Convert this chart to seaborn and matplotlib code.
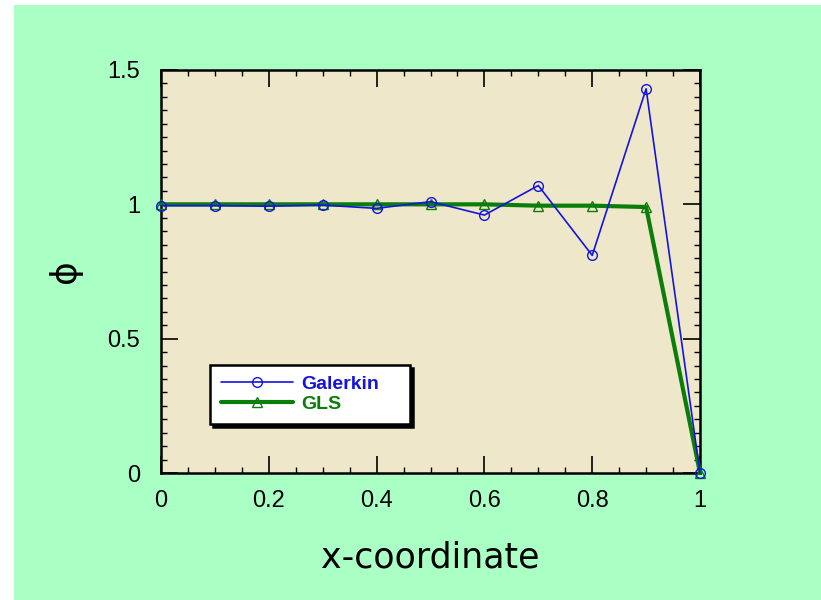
import matplotlib
matplotlib.use("Agg")
import matplotlib.pyplot as plt
import seaborn as sns
import pandas as pd
from matplotlib.patches import Rectangle
from matplotlib.ticker import MultipleLocator, FuncFormatter

# Nodal solution values along the 1-D domain
x_nodes = [0.0, 0.1, 0.2, 0.3, 0.4, 0.5, 0.6, 0.7, 0.8, 0.9, 1.0]
phi_galerkin = [0.995, 0.995, 0.993, 0.997, 0.985, 1.01, 0.96, 1.07, 0.81, 1.43, 0.0]
phi_gls = [1.0, 1.0, 1.0, 1.0, 1.0, 1.0, 1.0, 0.995, 0.995, 0.99, 0.0]

x_ticks = [0, 0.2, 0.4, 0.6, 0.8, 1]
y_ticks = [0, 0.5, 1, 1.5]

blue = "#1414e0"
green = "#0a7d0a"
panel = "#efe7c9"
outer = "#aaffc5"

sns.set_style("ticks")
plt.rcParams["font.family"] = ["Liberation Sans", "DejaVu Sans"]
plt.rcParams["text.color"] = "black"
plt.rcParams["axes.labelcolor"] = "black"
plt.rcParams["xtick.color"] = "black"
plt.rcParams["ytick.color"] = "black"

fig = plt.figure(figsize=(8.21, 6.0), dpi=100, facecolor="white")
fig.patches.append(Rectangle((14 / 821, 0), 1, 1 - 5 / 600, transform=fig.transFigure,
                             facecolor=outer, edgecolor="none", zorder=-10))
ax = fig.add_axes([161 / 821, 1 - 473 / 600, 539 / 821, 403 / 600])
ax.set_facecolor(panel)

df = pd.DataFrame({"x": x_nodes, "galerkin": phi_galerkin, "gls": phi_gls})

sns.lineplot(data=df, x="x", y="galerkin", ax=ax, color=blue, linewidth=1.2,
             marker="o", markersize=7, markerfacecolor="none", markeredgecolor=blue,
             markeredgewidth=1.0, label="Galerkin", clip_on=False, zorder=4)
sns.lineplot(data=df, x="x", y="gls", ax=ax, color=green, linewidth=3.0,
             marker="^", markersize=7, markerfacecolor="none", markeredgecolor=green,
             markeredgewidth=1.0, label="GLS", clip_on=False, zorder=3)

ax.set_xlim(0, 1)
ax.set_ylim(0, 1.5)
ax.set_xticks(x_ticks)
ax.set_yticks(y_ticks)
ax.xaxis.set_minor_locator(MultipleLocator(0.05))
ax.yaxis.set_minor_locator(MultipleLocator(0.05))
fmt = FuncFormatter(lambda v, p: f"{v:g}")
ax.xaxis.set_major_formatter(fmt)
ax.yaxis.set_major_formatter(fmt)

ax.tick_params(which="both", direction="in", top=True, right=True, color="black",
               labelcolor="black")
ax.tick_params(which="major", length=12, width=1.2, labelsize=17)
ax.tick_params(which="minor", length=4.5, width=1.0)
ax.tick_params(axis="x", which="major", pad=12)
ax.tick_params(axis="y", which="major", pad=15)

for s in ax.spines.values():
    s.set_visible(True)
    s.set_color("black")
    s.set_linewidth(1.8)

ax.set_xlabel("x-coordinate", fontsize=25, family="DejaVu Sans", labelpad=21)
ax.set_ylabel("\u03d5", fontsize=26, family="DejaVu Sans", labelpad=18)

leg = ax.legend(loc="lower left", bbox_to_anchor=(0.091, 0.122, 0.371, 0.153),
                mode="expand", frameon=True, fancybox=False, borderaxespad=0,
                shadow={"color": "black", "alpha": 1.0}, handlelength=3.7,
                handletextpad=0.45, labelspacing=0.12, borderpad=0.55,
                prop={"family": "Liberation Sans", "weight": "bold", "size": 14})
leg.get_frame().set_edgecolor("black")
leg.get_frame().set_linewidth(1.8)
leg.get_frame().set_facecolor("white")
for txt, col in zip(leg.get_texts(), [blue, green]):
    txt.set_color(col)

fig.savefig("out.png", dpi=100, facecolor=fig.get_facecolor())
